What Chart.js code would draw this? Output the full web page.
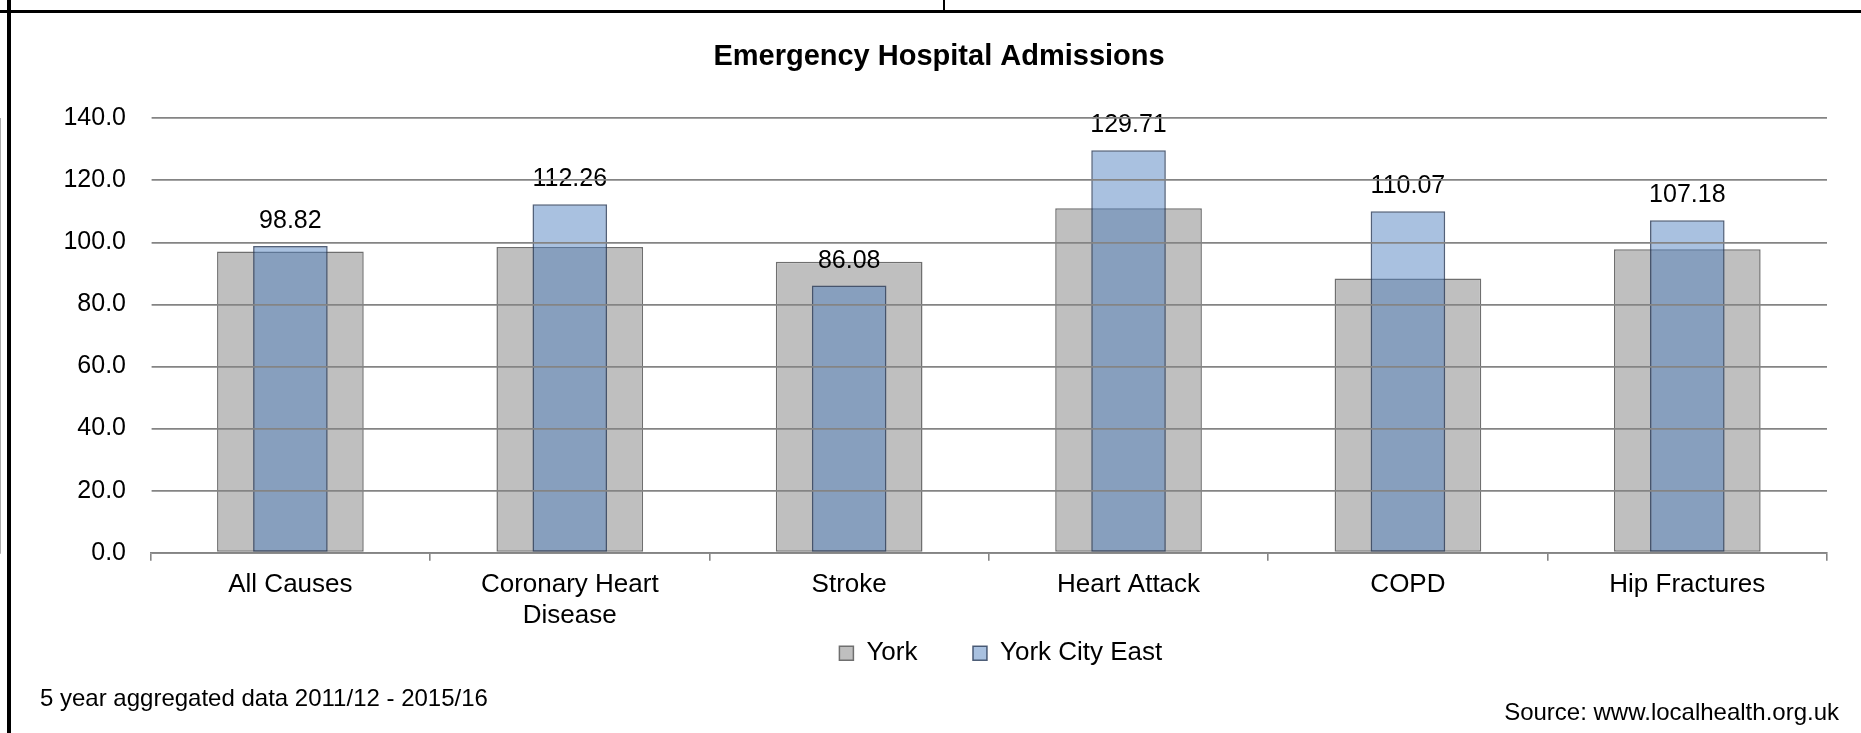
<!DOCTYPE html>
<html>
<head>
<meta charset="utf-8">
<title>Emergency Hospital Admissions</title>
<script src="https://cdn.jsdelivr.net/npm/chart.js@4.4.1/dist/chart.umd.min.js"></script>
<style>
  body { margin: 0; background: #fff; font-family: 'Liberation Sans', Arial, sans-serif; }
  #wrap { position: relative; width: 1861px; height: 733px; overflow: hidden; }
  #chart { position: absolute; left: 0; top: 0; }
  .rule { position: absolute; background: #000; }
  .note { position: absolute; font-size: 24px; line-height: 24px; color: #000; white-space: nowrap; }
</style>
</head>
<body>
<div id="wrap">
  <canvas id="chart" width="1861" height="733"></canvas>
  <div class="rule" style="left:0;top:10px;width:1861px;height:3px"></div>
  <div class="rule" style="left:7px;top:0;width:4px;height:733px"></div>
  <div class="rule" style="left:943px;top:0;width:2px;height:12px"></div>
  <div class="note" style="left:40px;top:686px">5 year aggregated data 2011/12 - 2015/16</div>
  <div class="note" style="right:22px;top:700px">Source: www.localhealth.org.uk</div>
</div>
<script>
// data
const categoryLabels = ['All Causes', ['Coronary Heart', 'Disease'], 'Stroke', 'Heart Attack', 'COPD', 'Hip Fractures'];
const yorkValues = [97.1, 98.5, 93.8, 111.0, 88.4, 97.8];
const cityEastValues = [98.82, 112.26, 86.08, 129.71, 110.07, 107.18];
const seriesNames = ['York', 'York City East'];
const yMin = 0;
const yMax = 140;
const yStep = 20;

Chart.defaults.font.family = "'Liberation Sans', Arial, sans-serif";
Chart.defaults.color = '#000';

// value labels above the blue bars
const valueLabels = {
    id: 'valueLabels',
    afterDatasetsDraw(chart) {
        const meta = chart.getDatasetMeta(1);
        const ctx = chart.ctx;
        ctx.save();
        ctx.font = "25px 'Liberation Sans', Arial, sans-serif";
        ctx.fillStyle = '#000';
        ctx.textAlign = 'center';
        ctx.textBaseline = 'alphabetic';
        meta.data.forEach((bar, i) => {
            ctx.fillText(cityEastValues[i].toFixed(2), bar.x, bar.y - 18);
        });
        ctx.restore();
    }
};

// move the legend closer to the axis labels and a bit right, like the original
const legendNudge = {
    id: 'legendNudge',
    afterLayout(chart) {
        const lg = chart.legend;
        if (lg) {
            lg.left += 12;
            lg.right += 12;
            lg.top -= 48;
            lg.bottom -= 48;
        }
    }
};

new Chart(document.getElementById('chart'), {
    type: 'bar',
    data: {
        labels: categoryLabels,
        datasets: [
            {
                label: seriesNames[0],
                data: yorkValues,
                backgroundColor: '#bfbfbf',
                borderColor: '#6f6f6f',
                borderWidth: 1.5,
                borderSkipped: false,
                grouped: false,
                categoryPercentage: 1,
                barPercentage: 0.525,
                order: 1
            },
            {
                label: seriesNames[1],
                data: cityEastValues,
                backgroundColor: 'rgba(75, 125, 191, 0.48)',
                borderColor: 'rgba(40, 58, 88, 0.8)',
                borderWidth: 1.5,
                borderSkipped: false,
                grouped: false,
                categoryPercentage: 1,
                barPercentage: 0.267,
                order: 0
            }
        ]
    },
    options: {
        responsive: false,
        animation: false,
        devicePixelRatio: 1,
        events: [],
        layout: {
            padding: { left: 51, right: 34, top: 0, bottom: 8.8 }
        },
        plugins: {
            tooltip: { enabled: false },
            title: {
                display: true,
                text: 'Emergency Hospital Admissions',
                color: '#000',
                font: { size: 29, weight: 'bold' },
                padding: { top: 39.4, bottom: 44.1 }
            },
            legend: {
                position: 'bottom',
                fullSize: false,
                labels: {
                    color: '#000',
                    font: { size: 26 },
                    boxWidth: 14,
                    boxHeight: 14,
                    padding: 55.5,
                    sort: (a, b) => a.datasetIndex - b.datasetIndex
                }
            }
        },
        scales: {
            x: {
                afterFit: (scale) => { scale.height = 80; },
                grid: {
                    offset: true,
                    color: (c) => c.index === categoryLabels.length ? '#bfbfbf' : 'rgba(0,0,0,0)',
                    tickColor: '#858585',
                    tickLength: 8,
                    lineWidth: 1.6
                },
                border: { color: '#858585', width: 1.8 },
                ticks: {
                    color: '#000',
                    font: { size: 26, lineHeight: 1.165 },
                    padding: 9.2,
                    maxRotation: 0,
                    autoSkip: false
                }
            },
            y: {
                min: yMin,
                max: yMax,
                afterFit: (scale) => { scale.width = 99.7; },
                grid: {
                    color: '#848484',
                    lineWidth: 1.8,
                    drawTicks: false,
                    z: 1
                },
                border: { color: '#9a9a9a', width: 1.6 },
                ticks: {
                    stepSize: yStep,
                    color: '#000',
                    font: { size: 25 },
                    padding: 24.7,
                    callback: (v) => v.toFixed(1)
                }
            }
        }
    },
    plugins: [valueLabels, legendNudge]
});
</script>
</body>
</html>
